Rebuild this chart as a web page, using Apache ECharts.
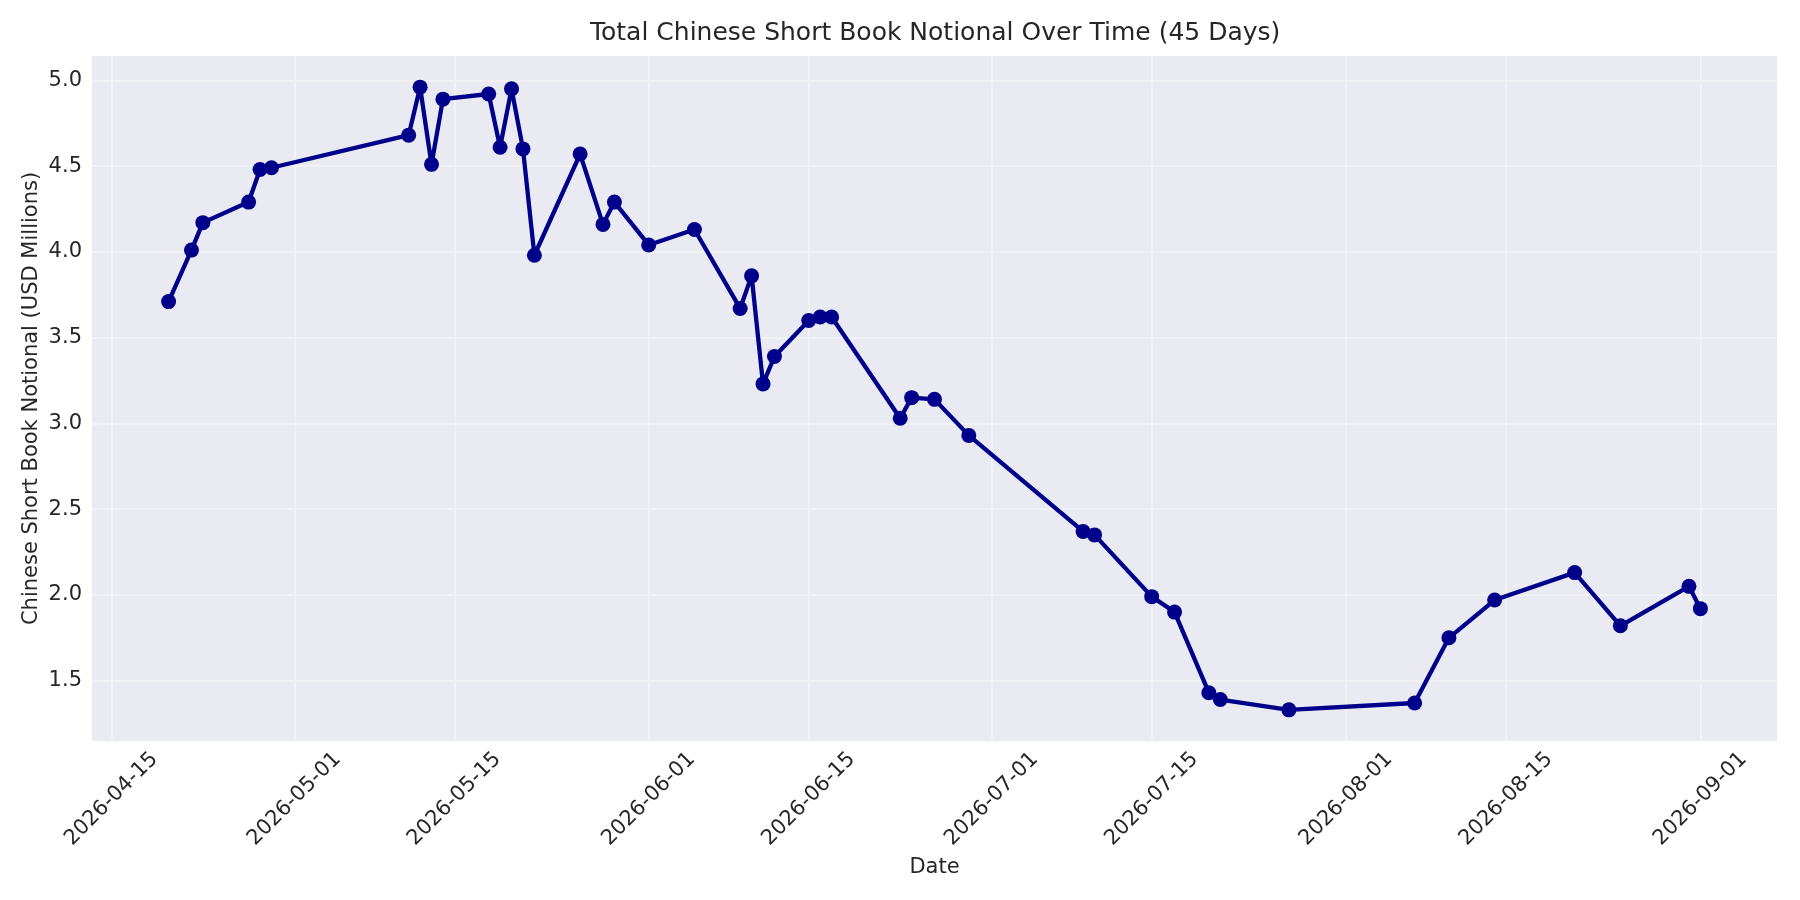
<!DOCTYPE html>
<html>
<head>
	<meta charset="UTF-8">
	<title>Chinese Short Book Notional</title>
	<style>
		html, body { margin: 0; padding: 0; background: #ffffff; }
		#main { width: 1800px; height: 900px; }
	</style>
</head>
<body>
	<div id="main"></div>

	<script src="https://cdn.jsdelivr.net/npm/echarts@6/dist/echarts.min.js"></script>
	<script type="text/javascript">

		// one point per trading day
		var dates = ['2026-04-20', '2026-04-22', '2026-04-23', '2026-04-27', '2026-04-28', '2026-04-29',
			'2026-05-11', '2026-05-12', '2026-05-13', '2026-05-14', '2026-05-18', '2026-05-19',
			'2026-05-20', '2026-05-21', '2026-05-22', '2026-05-26', '2026-05-28', '2026-05-29',
			'2026-06-01', '2026-06-05', '2026-06-09', '2026-06-10', '2026-06-11', '2026-06-12',
			'2026-06-15', '2026-06-16', '2026-06-17', '2026-06-23', '2026-06-24', '2026-06-26',
			'2026-06-29', '2026-07-09', '2026-07-10', '2026-07-15', '2026-07-17', '2026-07-20',
			'2026-07-21', '2026-07-27', '2026-08-07', '2026-08-10', '2026-08-14', '2026-08-21',
			'2026-08-25', '2026-08-31', '2026-09-01'];

		var notional = [3.71, 4.01, 4.17, 4.29, 4.48, 4.49,
			4.68, 4.96, 4.51, 4.89, 4.92, 4.61,
			4.95, 4.60, 3.98, 4.57, 4.16, 4.29,
			4.04, 4.13, 3.67, 3.86, 3.23, 3.39,
			3.60, 3.62, 3.62, 3.03, 3.15, 3.14,
			2.93, 2.37, 2.35, 1.99, 1.90, 1.43,
			1.39, 1.33, 1.37, 1.75, 1.97, 2.13,
			1.82, 2.05, 1.92];

		var xTickDates = ['2026-04-15', '2026-05-01', '2026-05-15', '2026-06-01', '2026-06-15',
			'2026-07-01', '2026-07-15', '2026-08-01', '2026-08-15', '2026-09-01'];

		var yTicks = [1.5, 2.0, 2.5, 3.0, 3.5, 4.0, 4.5, 5.0];

		function toTime(s) {
			var p = s.split('-');
			return new Date(+p[0], +p[1] - 1, +p[2]).getTime();
		}

		var seriesData = [];
		for (var i = 0; i < dates.length; i++) {
			seriesData.push([toTime(dates[i]), notional[i]]);
		}
		var xTicks = xTickDates.map(toTime);

		// 5% padding like matplotlib's default margins
		function padMin(v) { return v.min - 0.05 * (v.max - v.min); }
		function padMax(v) { return v.max + 0.05 * (v.max - v.min); }

		var FONT = 'DejaVu Sans';
		var TXT = '#262626';

		var chart = echarts.init(document.getElementById('main'));

		var option = {
			backgroundColor: '#ffffff',
			animation: false,
			title: {
				text: 'Total Chinese Short Book Notional Over Time (45 Days)',
				left: 585,
				top: 16,
				textStyle: { fontFamily: FONT, fontSize: 25, fontWeight: 'normal', color: TXT }
			},
			grid: {
				left: 92,
				right: 23,
				top: 56,
				bottom: 159,
				show: true,
				backgroundColor: '#EAEAF2',
				borderWidth: 0
			},
			xAxis: {
				type: 'time',
				min: padMin,
				max: padMax,
				name: 'Date',
				nameLocation: 'middle',
				nameGap: 116,
				nameMoveOverlap: false,
				nameTextStyle: { fontFamily: FONT, fontSize: 21, color: TXT },
				axisLine: { show: false },
				axisTick: { show: false, customValues: xTicks },
				axisLabel: {
					customValues: xTicks,
					formatter: '{yyyy}-{MM}-{dd}',
					rotate: 45,
					align: 'center',
					verticalAlign: 'middle',
					margin: 58,
					fontFamily: FONT,
					fontSize: 21,
					color: TXT
				},
				splitLine: { show: true, lineStyle: { color: '#F3F3F7', width: 1.5 } }
			},
			yAxis: {
				type: 'value',
				min: padMin,
				max: padMax,
				name: 'Chinese Short Book Notional (USD Millions)',
				nameLocation: 'middle',
				nameGap: 50,
				nameMoveOverlap: false,
				nameTextStyle: { fontFamily: FONT, fontSize: 21, color: TXT },
				axisLine: { show: false },
				axisTick: { show: false, customValues: yTicks },
				axisLabel: {
					customValues: yTicks,
					formatter: function (v) { return v.toFixed(1); },
					margin: 10,
					fontFamily: FONT,
					fontSize: 21,
					color: TXT
				},
				splitLine: { show: true, lineStyle: { color: '#F3F3F7', width: 1.5 } }
			},
			series: [{
				type: 'line',
				data: seriesData,
				symbol: 'circle',
				symbolSize: 15,
				showAllSymbol: true,
				lineStyle: { color: '#00008B', width: 4.3 },
				itemStyle: { color: '#00008B' }
			}]
		};

		chart.setOption(option);

	</script>
</body>
</html>
